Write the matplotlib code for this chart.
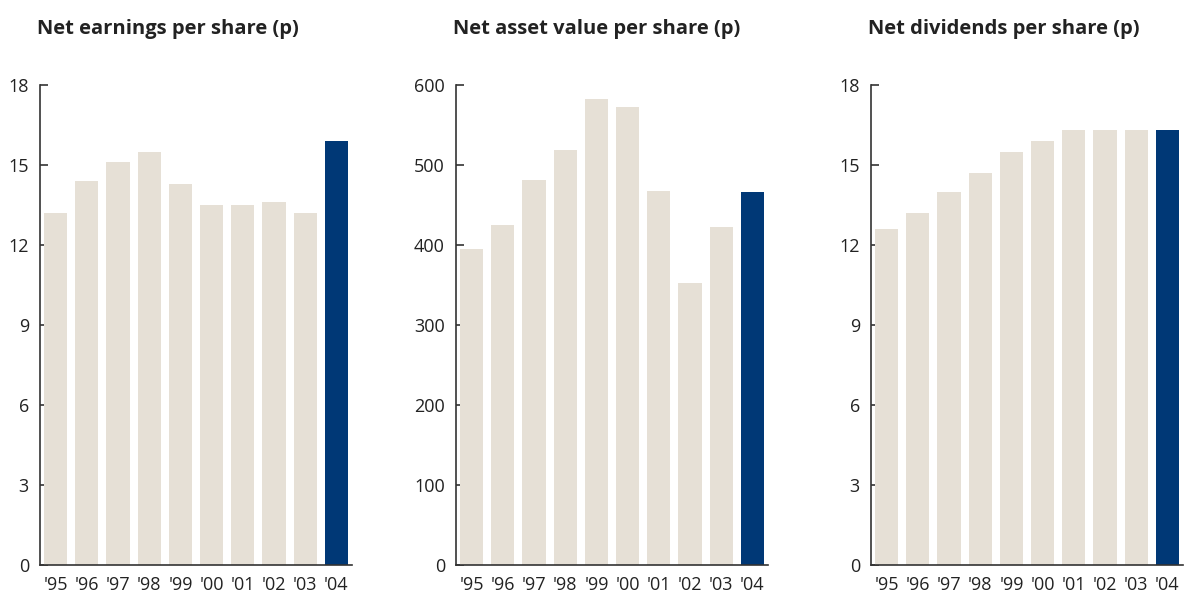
import matplotlib

matplotlib.use("Agg")
import matplotlib.pyplot as plt

plt.rcParams["font.family"] = ["Open Sans", "DejaVu Sans"]

YEARS = ["'95", "'96", "'97", "'98", "'99", "'00", "'01", "'02", "'03", "'04"]

EARNINGS = [13.2, 14.4, 15.1, 15.5, 14.3, 13.5, 13.5, 13.6, 13.2, 15.9]
NAV = [395, 425, 481, 519, 583, 572, 467, 352, 423, 466]
DIVIDENDS = [12.6, 13.2, 14.0, 14.7, 15.5, 15.9, 16.3, 16.3, 16.3, 16.3]

TITLES = [
    "Net earnings per share (p)",
    "Net asset value per share (p)",
    "Net dividends per share (p)",
]
Y_TICKS = [
    [0, 3, 6, 9, 12, 15, 18],
    [0, 100, 200, 300, 400, 500, 600],
    [0, 3, 6, 9, 12, 15, 18],
]

BEIGE = "#E6E0D6"
NAVY = "#003876"
INK = "#222222"

W, H = 1184, 593
fig = plt.figure(figsize=(W / 100, H / 100), dpi=100)

lefts_px = [40, 456, 871]
ax_w_px = 312
top_px, bottom_px = 85, 565

series = [EARNINGS, NAV, DIVIDENDS]
for left, values, title, yt in zip(lefts_px, series, TITLES, Y_TICKS):
    ax = fig.add_axes([left / W, 1 - bottom_px / H, ax_w_px / W, (bottom_px - top_px) / H])
    x = list(range(len(values)))
    colors = [BEIGE] * (len(values) - 1) + [NAVY]
    ax.bar(x, values, width=0.74, color=colors, zorder=3)
    ax.set_xlim(-0.5, len(values) - 0.5)
    ax.set_ylim(yt[0], yt[-1])
    ax.set_yticks(yt)
    ax.set_xticks(x)
    ax.set_xticklabels(YEARS)
    for side in ("top", "right"):
        ax.spines[side].set_visible(False)
    for side in ("left", "bottom"):
        ax.spines[side].set_color("#333333")
        ax.spines[side].set_linewidth(1.2)
        ax.spines[side].set_zorder(4)
    ax.tick_params(axis="y", direction="in", length=6, width=1.2, color="#333333",
                   labelsize=13, labelcolor=INK, pad=8)
    ax.tick_params(axis="x", length=0, labelsize=13, labelcolor=INK, pad=8)
    fig.text((left - 3) / W, 1 - 29 / H, title, ha="left", va="center",
             fontsize=14.5, fontweight="bold", color=INK)

fig.savefig("out.png", dpi=100)
